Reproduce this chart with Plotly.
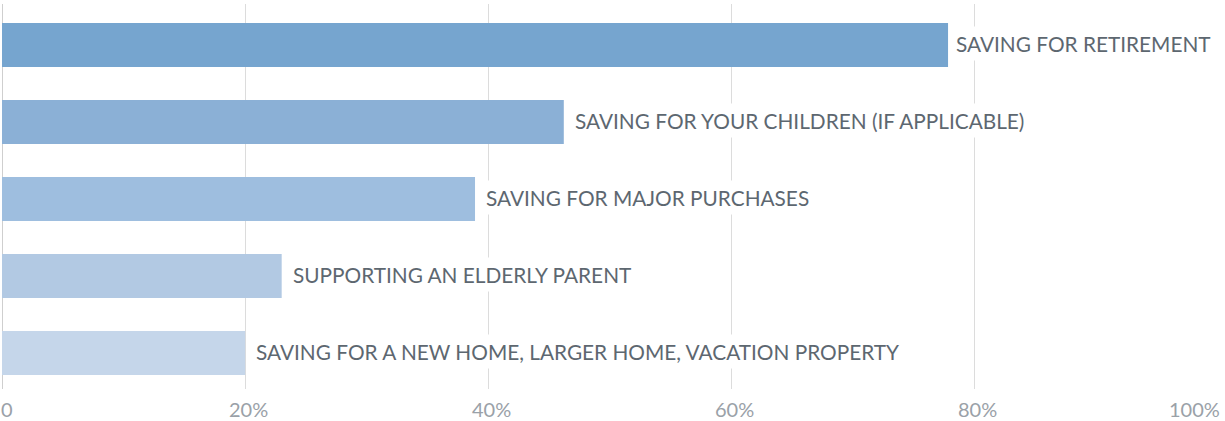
import plotly.graph_objects as go

categories = [
    "SAVING FOR RETIREMENT",
    "SAVING FOR YOUR CHILDREN (IF APPLICABLE)",
    "SAVING FOR MAJOR PURCHASES",
    "SUPPORTING AN ELDERLY PARENT",
    "SAVING FOR A NEW HOME, LARGER HOME, VACATION PROPERTY",
]
values = [77.8, 46.2, 38.9, 23.0, 20.0]
bar_colors = ["#76a5cf", "#8bb0d6", "#9ebedf", "#b2c9e3", "#c5d6ea"]
tick_vals = [0, 20, 40, 60, 80, 100]
tick_text = ["0", "20%", "40%", "60%", "80%", "100%"]

fig = go.Figure()
fig.add_trace(go.Bar(
    x=values, y=categories, orientation="h",
    marker=dict(color=bar_colors, line=dict(width=0)),
    width=0.57, hoverinfo="skip",
))

for i, (c, v) in enumerate(zip(categories, values)):
    fig.add_annotation(
        x=v, y=c, xref="x", yref="y", text=c, showarrow=False,
        xanchor="left", yanchor="middle", xshift=(3 if i == 0 else 6), yshift=1,
        bgcolor="white", borderpad=4,
        font=dict(family="Lato", size=20.8, color="#5d6770"),
    )

for tv, tt in zip(tick_vals, tick_text):
    anchor = "left" if tv == 0 else ("right" if tv == 100 else "center")
    fig.add_annotation(
        x=tv, y=0, xref="x", yref="paper", text=tt, showarrow=False,
        xanchor=anchor, yanchor="top", yshift=-6,
        xshift=(-3 if tv == 0 else (4 if tv == 100 else 3)),
        font=dict(family="Lato", size=20, color="#9aa1a8"),
    )

fig.update_layout(
    width=1225, height=421,
    margin=dict(l=2, r=7, t=4, b=32),
    paper_bgcolor="white", plot_bgcolor="white",
    showlegend=False,
    xaxis=dict(range=[0, 100], tickvals=tick_vals, showticklabels=False,
               showgrid=True, gridcolor="#dcdcdc", gridwidth=1,
               zeroline=True, zerolinecolor="#cfcfcf", zerolinewidth=1,
               fixedrange=True),
    yaxis=dict(autorange=False, range=[4.468, -0.532], showticklabels=False,
               showgrid=False, zeroline=False, fixedrange=True),
)

fig.write_html("out.html", config={"displayModeBar": False},
               post_script="document.body.style.margin='0';document.body.style.overflow='hidden';")
